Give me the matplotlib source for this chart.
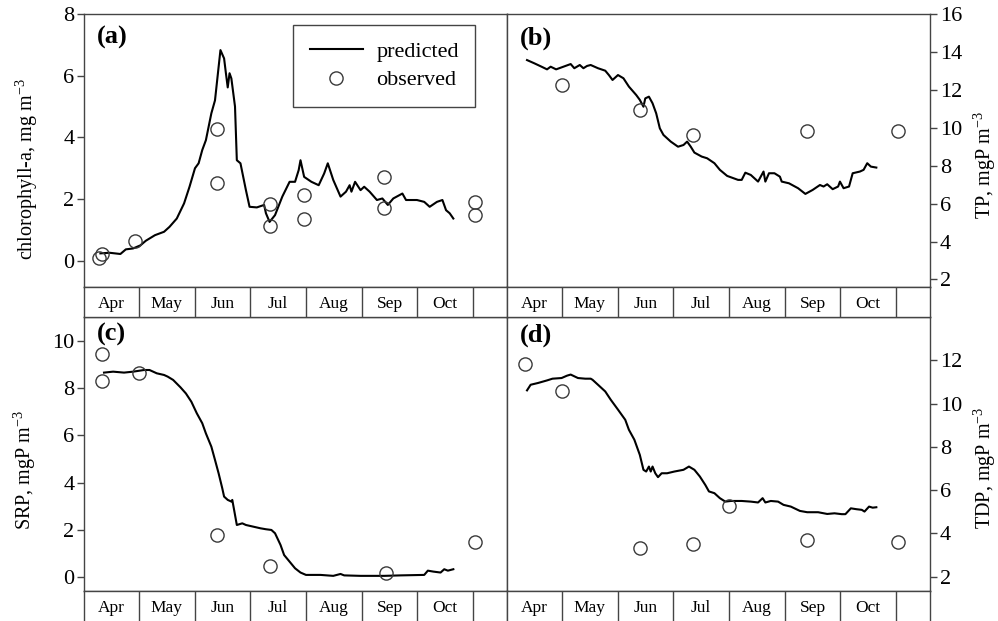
import matplotlib.pyplot as plt

plt.rcParams['font.family'] = ['Liberation Serif', 'DejaVu Serif']
plt.rcParams['mathtext.fontset'] = 'custom'
plt.rcParams['mathtext.rm'] = 'Liberation Serif'
plt.rcParams['mathtext.default'] = 'regular'

# month strip (day of year)
months = ['Apr', 'May', 'Jun', 'Jul', 'Aug', 'Sep', 'Oct']
month_starts = [91, 121, 152, 182, 213, 244, 274, 305]
x_start, x_end = 91, 323.5

# (a) chlorophyll-a
chla_day = [100, 105, 111, 114, 118, 122, 125, 130, 135, 138, 142, 146, 149, 152, 154,
            156, 158, 161, 163, 165, 166, 168, 169, 170, 171, 172, 174, 175, 177, 180,
            182, 186, 190, 191, 193, 196, 200, 204, 207, 209, 210, 212, 216, 220, 223,
            225, 228, 232, 235, 237, 238, 240, 243, 245, 248, 252, 255, 258, 261, 266,
            268, 274, 278, 281, 285, 288, 290, 292, 294]
chla_pred = [0.24, 0.26, 0.22, 0.37, 0.40, 0.50, 0.65, 0.83, 0.94, 1.10, 1.37, 1.86, 2.40, 3.00, 3.16,
             3.59, 3.91, 4.78, 5.20, 6.29, 6.83, 6.56, 6.08, 5.62, 6.08, 5.91, 5.00, 3.26, 3.16, 2.29,
             1.75, 1.73, 1.81, 1.54, 1.26, 1.48, 2.08, 2.56, 2.56, 2.94, 3.26, 2.72, 2.56, 2.45, 2.83,
             3.16, 2.62, 2.08, 2.24, 2.45, 2.24, 2.56, 2.29, 2.40, 2.24, 1.97, 2.02, 1.81, 2.02, 2.18,
             1.97, 1.97, 1.91, 1.75, 1.91, 1.97, 1.64, 1.54, 1.37]
chla_obs_day = [99, 101, 119, 164, 164, 193, 193, 212, 212, 256, 256, 306, 306]
chla_obs = [0.10, 0.22, 0.65, 4.27, 2.51, 1.84, 1.12, 2.13, 1.35, 2.72, 1.70, 1.89, 1.50]

# (b) TP
tp_day = [102, 106, 110, 113, 115, 118, 122, 126, 128, 131, 133, 135, 137, 141, 145,
          147, 149, 152, 155, 158, 162, 164, 166, 167, 169, 171, 173, 175, 177, 181,
          185, 188, 190, 192, 194, 198, 201, 205, 208, 212, 218, 220, 222, 225, 229,
          232, 233, 235, 238, 241, 242, 246, 251, 255, 259, 263, 265, 267, 270, 273,
          274, 276, 279, 281, 285, 287, 289, 291, 294]
tp_pred = [13.57, 13.40, 13.22, 13.08, 13.22, 13.08, 13.22, 13.36, 13.14, 13.31, 13.14, 13.26, 13.31, 13.14, 13.01,
           12.78, 12.52, 12.78, 12.61, 12.17, 11.73, 11.47, 11.11, 11.55, 11.64, 11.29, 10.76, 9.97, 9.62, 9.27,
           9.00, 9.09, 9.27, 9.00, 8.69, 8.48, 8.39, 8.13, 7.78, 7.46, 7.25, 7.25, 7.63, 7.51, 7.16,
           7.69, 7.16, 7.60, 7.60, 7.42, 7.16, 7.07, 6.81, 6.51, 6.72, 6.98, 6.90, 7.02, 6.76, 6.90,
           7.16, 6.81, 6.90, 7.60, 7.69, 7.78, 8.13, 7.95, 7.90]
tp_obs_day = [121, 164, 193, 256, 306]
tp_obs = [12.26, 10.94, 9.62, 9.83, 9.83]

# (c) SRP
srp_day = [102, 107, 113, 118, 124, 127, 131, 135, 137, 140, 144, 147, 150, 153, 156,
           158, 161, 163, 165, 167, 168, 170, 172, 172.5, 173.5, 175, 178, 180, 184, 188,
           191, 194, 196, 199, 201, 204, 207, 210, 213, 221, 228, 232, 234, 243, 256,
           265, 278, 280, 283, 287, 289, 291, 294]
srp_pred = [8.65, 8.69, 8.65, 8.69, 8.76, 8.76, 8.62, 8.55, 8.48, 8.34, 8.03, 7.77, 7.42, 6.93, 6.51,
            6.08, 5.52, 4.96, 4.39, 3.76, 3.41, 3.27, 3.20, 3.27, 2.85, 2.21, 2.28, 2.21, 2.14, 2.07,
            2.03, 2.00, 1.86, 1.37, 0.94, 0.66, 0.38, 0.20, 0.10, 0.10, 0.06, 0.14, 0.08, 0.06, 0.06,
            0.08, 0.10, 0.28, 0.24, 0.20, 0.34, 0.28, 0.34]
srp_obs_day = [101, 101, 121, 164, 193, 257, 306]
srp_obs = [9.42, 8.31, 8.62, 1.79, 0.49, 0.20, 1.51]

# (d) TDP
tdp_day = [102, 104, 108, 113, 116, 121, 124, 126, 130, 134, 137, 138, 141, 145, 148,
           152, 156, 158, 161, 164, 166, 167.5, 169, 170, 171, 172.5, 174, 176, 179, 183,
           188, 191, 194, 197, 200, 202, 205, 208, 211, 214, 220, 225, 229, 231.5, 233,
           236, 240, 243, 247, 252, 256, 262, 267, 271, 275, 277, 280, 283, 286, 287.5,
           290, 292, 294]
tdp_pred = [10.61, 10.87, 10.95, 11.07, 11.15, 11.18, 11.29, 11.34, 11.18, 11.15, 11.15, 11.10, 10.87, 10.56, 10.18,
            9.72, 9.25, 8.79, 8.33, 7.63, 6.94, 6.86, 7.09, 6.86, 7.09, 6.78, 6.60, 6.78, 6.78, 6.86,
            6.94, 7.09, 6.94, 6.63, 6.24, 5.94, 5.86, 5.63, 5.47, 5.50, 5.50, 5.47, 5.43, 5.63, 5.43,
            5.50, 5.47, 5.32, 5.24, 5.04, 4.98, 4.98, 4.90, 4.93, 4.89, 4.89, 5.16, 5.12, 5.09, 5.01,
            5.24, 5.19, 5.21]
tdp_obs_day = [101, 121, 164, 193, 213, 256, 306]
tdp_obs = [11.85, 10.56, 3.31, 3.50, 5.27, 3.70, 3.59]

edge = '#444444'
W, H = 998, 621


def rect(x0, y0, x1, y1):
    # pixel box -> figure fraction
    return [x0 / W, 1 - y1 / H, (x1 - x0) / W, (y1 - y0) / H]


def month_strip(ax, show_bottom=True):
    ax.set_xlim(x_start, x_end)
    ax.set_ylim(0, 1)
    ax.set_xticks([])
    ax.set_yticks([])
    for s in ax.spines.values():
        s.set_color(edge)
        s.set_linewidth(1.0)
    ax.spines['bottom'].set_visible(show_bottom)
    for d in month_starts[1:]:
        ax.axvline(d, color=edge, lw=1.0)
    for i, m in enumerate(months):
        mid = (month_starts[i] + month_starts[i + 1]) / 2
        ax.text(mid, 0.42, m, ha='center', va='center', fontsize=12.5)


def panel(ax, day, pred, obs_day, obs, ylim, yticks, ylabel, side, label_xy, tag, tag_y):
    line, = ax.plot(day, pred, color='black', lw=1.5, label='predicted')
    pts, = ax.plot(obs_day, obs, 'o', ms=9.5, mfc='none', mec='#3a3a3a', mew=1.0,
                   label='observed', clip_on=False)
    ax.set_xlim(x_start, x_end)
    ax.set_ylim(*ylim)
    ax.set_yticks(yticks)
    ax.set_xticks([])
    for s in ax.spines.values():
        s.set_color(edge)
        s.set_linewidth(1.0)
    ax.tick_params(axis='y', direction='out', length=5, width=1.0, color=edge,
                   labelsize=16, pad=2)
    if side == 'right':
        ax.yaxis.tick_right()
        ax.yaxis.set_label_position('right')
    ax.set_ylabel(ylabel, fontsize=14.5)
    ax.yaxis.set_label_coords(*label_xy)
    ax.text(0.031, tag_y, tag, transform=ax.transAxes, fontsize=19,
            fontweight='bold', ha='left', va='top')
    return line, pts


fig = plt.figure(figsize=(9.98, 6.21), dpi=100)

ax_a = fig.add_axes(rect(84, 14, 507, 287))
ax_b = fig.add_axes(rect(507, 14, 930, 287))
ax_c = fig.add_axes(rect(84, 317, 507, 591))
ax_d = fig.add_axes(rect(507, 317, 930, 591))

line, pts = panel(ax_a, chla_day, chla_pred, chla_obs_day, chla_obs, (-0.85, 8), [0, 2, 4, 6, 8],
                  'chlorophyll-a, mg m$^{-3}$', 'left', (-0.103, 0.432), '(a)', 0.955)
panel(ax_b, tp_day, tp_pred, tp_obs_day, tp_obs, (1.6, 16), [2, 4, 6, 8, 10, 12, 14, 16],
      'TP, mgP m$^{-3}$', 'right', (1.10, 0.447), '(b)', 0.955)
panel(ax_c, srp_day, srp_pred, srp_obs_day, srp_obs, (-0.58, 11.0), [0, 2, 4, 6, 8, 10],
      'SRP, mgP m$^{-3}$', 'left', (-0.108, 0.442), '(c)', 0.977)
panel(ax_d, tdp_day, tdp_pred, tdp_obs_day, tdp_obs, (1.34, 14.0), [2, 4, 6, 8, 10, 12],
      'TDP, mgP m$^{-3}$', 'right', (1.10, 0.449), '(d)', 0.977)

leg = ax_a.legend(handles=[line, pts], loc='upper left', bbox_to_anchor=(0.494, 0.96),
                  fontsize=16, frameon=True, fancybox=False, framealpha=1,
                  handlelength=2.4, handletextpad=0.6, labelspacing=0.35,
                  borderpad=0.75, borderaxespad=0)
leg.get_frame().set_edgecolor(edge)
leg.get_frame().set_linewidth(1.0)

month_strip(fig.add_axes(rect(84, 287, 507, 317)))
month_strip(fig.add_axes(rect(507, 287, 930, 317)))
month_strip(fig.add_axes(rect(84, 591, 507, 621)), show_bottom=False)
month_strip(fig.add_axes(rect(507, 591, 930, 621)), show_bottom=False)

fig.savefig('out.png', dpi=100)
